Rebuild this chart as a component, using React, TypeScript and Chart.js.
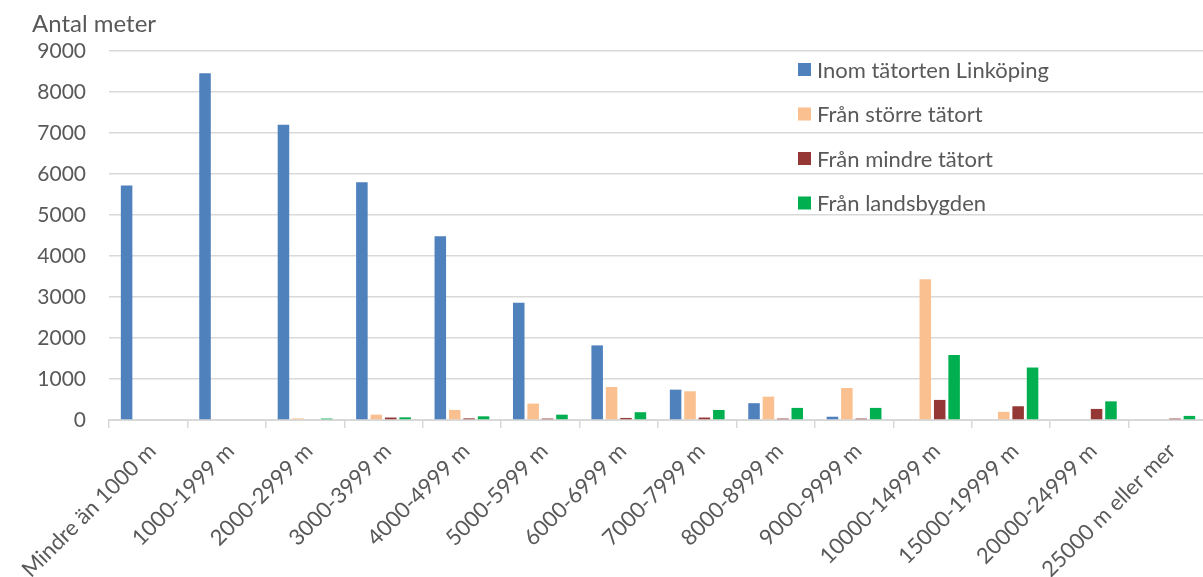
import React, { useEffect, useRef } from 'react';
import { Chart, registerables } from 'chart.js';

Chart.register(...registerables);

const categories = [
  'Mindre än 1000 m',
  '1000-1999 m',
  '2000-2999 m',
  '3000-3999 m',
  '4000-4999 m',
  '5000-5999 m',
  '6000-6999 m',
  '7000-7999 m',
  '8000-8999 m',
  '9000-9999 m',
  '10000-14999 m',
  '15000-19999 m',
  '20000-24999 m',
  '25000 m eller mer',
];

const seriesNames = [
  'Inom tätorten Linköping',
  'Från större tätort',
  'Från mindre tätort',
  'Från landsbygden',
];

const inomLinkoping = [5720, 8460, 7200, 5800, 4480, 2860, 1820, 740, 410, 80, 0, 0, 0, 0];
const franStorre = [0, 0, 40, 130, 245, 400, 805, 700, 570, 780, 3430, 200, 0, 0];
const franMindre = [0, 0, 0, 60, 40, 35, 50, 60, 35, 35, 490, 335, 270, 35];
const franLandsbygden = [0, 0, 35, 65, 90, 130, 190, 245, 295, 295, 1585, 1280, 455, 100];

const yTicks = [0, 1000, 2000, 3000, 4000, 5000, 6000, 7000, 8000, 9000];
const yTitle = 'Antal meter';

const colors = ['#4F81BD', '#FAC090', '#953735', '#00B050'];
const textColor = '#595959';
const gridColor = '#d9d9d9';
const fontFamily = 'Lato, "Open Sans", sans-serif';

const overlayPlugin = {
  id: 'overlay',
  afterDraw(chart: any) {
    const ctx = chart.ctx;
    ctx.save();
    ctx.fillStyle = textColor;
    ctx.font = `24px ${fontFamily}`;
    ctx.textBaseline = 'alphabetic';
    ctx.textAlign = 'left';
    ctx.fillText(yTitle, 32, 32);
    chart.data.datasets.forEach((ds: any, i: number) => {
      const y = 69.5 + i * 44.5;
      ctx.fillStyle = ds.backgroundColor;
      ctx.fillRect(798, y - 6.5, 13, 13);
      ctx.fillStyle = textColor;
      ctx.textBaseline = 'middle';
      ctx.font = `22px ${fontFamily}`;
      ctx.fillText(ds.label, 817, y + 1);
    });
    ctx.restore();
  },
};

export default function App() {
  const ref = useRef<HTMLCanvasElement | null>(null);

  useEffect(() => {
    document.body.style.margin = '0';
    const canvas = ref.current;
    if (!canvas) return;
    const values = [inomLinkoping, franStorre, franMindre, franLandsbygden];
    const chart = new Chart(canvas, {
      type: 'bar',
      data: {
        labels: categories,
        datasets: seriesNames.map((name, i) => ({
          label: name,
          data: values[i],
          backgroundColor: colors[i],
          borderWidth: 0,
          categoryPercentage: 0.735,
          barPercentage: 0.8,
        })),
      },
      options: {
        responsive: false,
        animation: false,
        devicePixelRatio: 1,
        layout: { padding: { top: 51, right: 3, left: 0, bottom: 0 } },
        plugins: {
          legend: { display: false },
          tooltip: { enabled: false },
          title: { display: false },
        },
        scales: {
          x: {
            grid: {
              display: true,
              drawOnChartArea: false,
              drawTicks: true,
              tickLength: 8,
              offset: true,
              color: gridColor,
              lineWidth: 1.5,
            },
            border: { display: true, color: gridColor, width: 2 },
            ticks: {
              minRotation: 45,
              maxRotation: 45,
              autoSkip: false,
              font: { family: fontFamily, size: 22 },
              color: textColor,
              padding: 10,
              labelOffset: 4,
            },
            afterFit: (s: any) => {
              s.height = 157;
              s.paddingLeft = 0;
              s.paddingRight = 0;
            },
          },
          y: {
            min: yTicks[0],
            max: yTicks[yTicks.length - 1],
            afterBuildTicks: (s: any) => {
              s.ticks = yTicks.map((v) => ({ value: v }));
            },
            ticks: {
              padding: 23,
              font: { family: fontFamily, size: 21 },
              color: textColor,
              callback: (v: any) => String(v),
            },
            grid: { color: gridColor, drawTicks: false, lineWidth: 1.5 },
            border: { display: false },
            afterFit: (s: any) => {
              s.width = 109;
              s.paddingTop = 0;
              s.paddingBottom = 0;
            },
          },
        },
      },
      plugins: [overlayPlugin],
    });
    return () => chart.destroy();
  }, []);

  return (
    <div style={{ width: 1203, height: 577, overflow: 'hidden', position: 'relative' }}>
      <canvas ref={ref} width={1210} height={577} style={{ display: 'block' }} />
    </div>
  );
}
